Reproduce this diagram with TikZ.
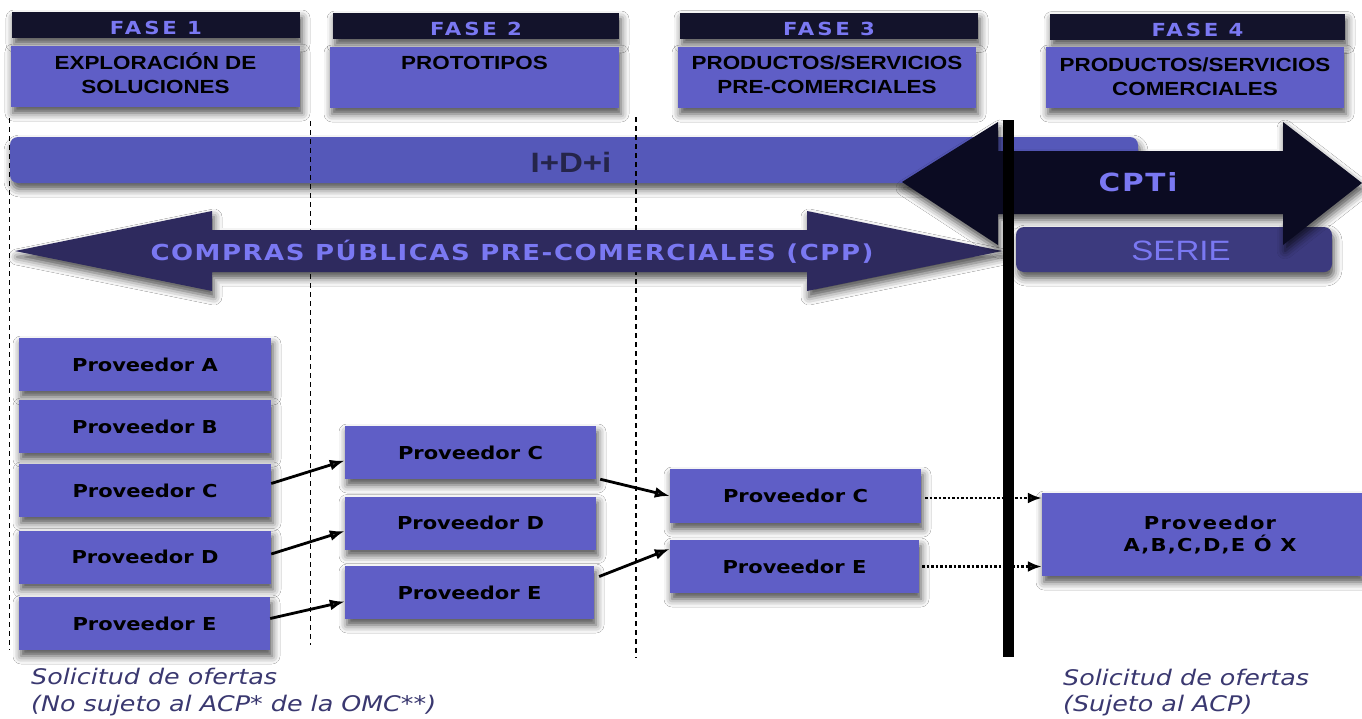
\documentclass[tikz,border=0pt]{standalone}
\usepackage{fontspec}
\setmainfont{DejaVu Sans}[FakeStretch=1.18]
\newfontfamily\wideverd{DejaVu Sans}[FakeStretch=1.18,LetterSpace=16]
\newfontfamily\midverd{DejaVu Sans}[FakeStretch=1.18,LetterSpace=7]
\newfontfamily\arialf{Liberation Sans}[FakeStretch=1.18]
\usetikzlibrary{positioning,arrows.meta,shadows.blur}
\definecolor{BoxBlue}{HTML}{5F5EC6}
\definecolor{FaseDark}{HTML}{13132B}
\definecolor{LightText}{HTML}{7A78F2}
\definecolor{BarBlue}{HTML}{5558B9}
\definecolor{CptiDark}{HTML}{0B0B22}
\definecolor{CppDark}{HTML}{2E2A5E}
\definecolor{SerieBlue}{HTML}{3C3A7E}
\definecolor{NotaText}{HTML}{3A3870}
\definecolor{IdiText}{HTML}{25254A}

\begin{document}
\begin{tikzpicture}[x=1pt,y=-1pt,
    shd/.style={blur shadow={shadow xshift=2pt,shadow yshift=-6pt,shadow blur radius=8pt,shadow opacity=70}},
    fase/.style={shd,fill=FaseDark,text=LightText,minimum height=26pt,inner sep=0pt,text height=19pt,text depth=0pt,font=\wideverd\bfseries\fontsize{18}{20}\selectfont},
    desc/.style={shd,fill=BoxBlue,minimum height=61pt,inner sep=0pt},
    desctext/.style={align=center,inner sep=0pt,anchor=base,font=\arialf\bfseries\fontsize{19}{24}\selectfont},
    prov/.style={shd,fill=BoxBlue,minimum width=251pt,minimum height=53pt,inner sep=0pt,font=\bfseries\fontsize{17.8}{22}\selectfont},
    flecha/.style={-{Latex[length=15pt,width=11pt]},line width=2.8pt},
    puntos/.style={-{Latex[length=14pt,width=11pt]},line width=2.8pt,dash pattern=on 2.5pt off 2pt},
    corte/.style={line width=1.2pt,dash pattern=on 5pt off 4pt},
    nota/.style={anchor=west,inner sep=0pt,text=NotaText,font=\itshape\fontsize{21.5}{24}\selectfont}]
\useasboundingbox[fill=white] (0,0) rectangle (1362,718);

\node[fase,minimum width=288pt] (f1) at (156,25) {FASE 1};
\node[fase,minimum width=286pt] (f2) at (476,26) {FASE 2};
\node[fase,minimum width=298pt] (f3) at (829,25.5) {FASE 3};
\node[fase,minimum width=295pt] (f4) at (1197.5,26.5) {FASE 4};

\node[desc,minimum width=289pt] (d1) at (155.5,76.5) {};
\node[desc,minimum width=289pt] (d2) at (474.5,77.5) {};
\node[desc,minimum width=298pt] (d3) at (827,77.5) {};
\node[desc,minimum width=298pt] (d4) at (1195,77.5) {};
\node[desctext] (t1) at ([yshift=-48pt]d1.north) {EXPLORACIÓN DE\\SOLUCIONES};
\node[desctext] (t2) at ([yshift=-23pt]d2.north) {PROTOTIPOS};
\node[desctext] (t3) at ([yshift=-47pt]d3.north) {PRODUCTOS/SERVICIOS\\PRE-COMERCIALES};
\node[desctext] (t4) at ([yshift=-49pt]d4.north) {PRODUCTOS/SERVICIOS\\COMERCIALES};

\fill[shd,BarBlue,rounded corners=8pt] (10,137) rectangle (1138,183);
\node[text=IdiText,font=\arialf\bfseries\fontsize{28}{30}\selectfont] (idi) at (571,162) {I+D+i};

\draw[corte] (9.5,118) -- (9.5,650);
\draw[corte] (310.5,121) -- (310.5,645);
\draw[corte] (636,117) -- (636,658);

\fill[shd,SerieBlue,rounded corners=8pt] (1016,227) rectangle (1332,272);
\node[text=LightText,font=\arialf\fontsize{28}{30}\selectfont] (serie) at (1181,251) {SERIE};

\fill[shd,CppDark] (15,251) -- (212,211) -- (212,230) -- (807,230) -- (807,211) -- (1002,251)
    -- (807,291) -- (807,272) -- (212,272) -- (212,291) -- cycle;
\node[text=LightText,font=\midverd\bfseries\fontsize{22}{24}\selectfont] (cpp) at (512,252) {COMPRAS PÚBLICAS PRE-COMERCIALES (CPP)};

\fill[shd,CptiDark] (902,182) -- (998,122) -- (998,151) -- (1283,151) -- (1283,122) -- (1362,183)
    -- (1283,245) -- (1283,214) -- (998,214) -- (998,245) -- cycle;
\node[text=LightText,font=\midverd\bfseries\fontsize{25}{26}\selectfont] (cpti) at (1138,182) {CPTi};

\draw[line width=11pt] (1008,120) -- (1008,657);

\node[prov,minimum width=252pt] (a1) at (145,364.5) {Proveedor A};
\node[prov,minimum width=252pt] (b1) at (145,426.5) {Proveedor B};
\node[prov,minimum width=252pt] (c1) at (145,490.5) {Proveedor C};
\node[prov,minimum width=252pt] (d1p) at (145,557) {Proveedor D};
\node[prov,minimum width=251pt] (e1) at (144.5,623.5) {Proveedor E};

\node[prov] (c2) at (470.5,452.5) {Proveedor C};
\node[prov] (d2p) at (470.5,523) {Proveedor D};
\node[prov,minimum width=249pt] (e2) at (469.5,592.5) {Proveedor E};

\node[prov,minimum height=54pt] (c3) at (795.5,496) {Proveedor C};
\node[prov,minimum width=249pt] (e3) at (794.5,566.5) {Proveedor E};

\node[prov,minimum width=320pt,minimum height=83pt] (fin) at (1202,534.5) {};
\node[align=center,inner sep=0pt,font=\midverd\bfseries\fontsize{17.8}{22}\selectfont] (fintext) at ([xshift=8pt]fin.center) {Proveedor\\A,B,C,D,E Ó X};

\draw[flecha] ([yshift=7pt]c1.east) -- ([yshift=-8pt]c2.west);
\draw[flecha] ([yshift=3pt]d1p.east) -- ([yshift=-8pt]d2p.west);
\draw[flecha] ([yshift=5pt]e1.east) -- ([yshift=-9pt]e2.west);
\draw[flecha] ([xshift=4pt]c2.south east) -- (c3.west);
\draw[flecha] ([xshift=5pt,yshift=16pt]e2.east) -- ([yshift=-9pt]e3.north west);

\draw[puntos] ([xshift=4pt,yshift=-2pt]c3.east) -- ([yshift=-2pt]c3.east -| fin.west);
\draw[puntos] ([xshift=3pt]e3.east) -- (e3.east -| fin.west);

\node[nota] (n1) at (31,676) {Solicitud de ofertas};
\node[nota] (n2) at (31,706) {(No sujeto al ACP* de la OMC**)};
\node[nota] (n3) at (1063,677) {Solicitud de ofertas};
\node[nota] (n4) at (1063,706) {(Sujeto al ACP)};
\end{tikzpicture}
\end{document}
